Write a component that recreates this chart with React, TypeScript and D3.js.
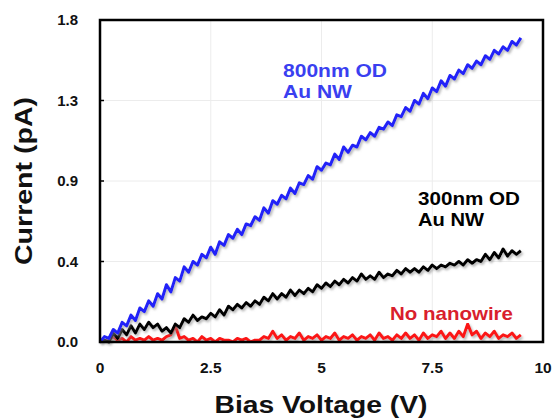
import React, { useEffect, useRef } from "react";
import * as d3 from "d3";

// bias voltage samples (V), step 0.1 from 0 to 9.5
const voltage: number[] = d3.range(0, 96).map((i) => i / 10);

// current readings (pA)
const au800: number[] = [
  0.0, 0.03, 0.02, 0.07, 0.05, 0.11, 0.09, 0.15, 0.12, 0.19,
  0.17, 0.23, 0.2, 0.27, 0.24, 0.32, 0.28, 0.36, 0.34, 0.42,
  0.39, 0.45, 0.43, 0.49, 0.47, 0.53, 0.49, 0.56, 0.54, 0.6,
  0.58, 0.63, 0.6, 0.66, 0.65, 0.7, 0.68, 0.75, 0.72, 0.79,
  0.77, 0.82, 0.8, 0.86, 0.83, 0.89, 0.88, 0.93, 0.91, 0.98,
  0.96, 1.0, 0.99, 1.05, 1.02, 1.09, 1.06, 1.1, 1.09, 1.15,
  1.13, 1.17, 1.15, 1.2, 1.19, 1.23, 1.21, 1.27, 1.26, 1.31,
  1.29, 1.35, 1.33, 1.39, 1.36, 1.42, 1.4, 1.46, 1.43, 1.49,
  1.47, 1.52, 1.5, 1.55, 1.53, 1.57, 1.55, 1.6, 1.58, 1.63,
  1.61, 1.65, 1.63, 1.68, 1.66, 1.7
];

const au300: number[] = [
  0.0, 0.01, 0.0, 0.05, 0.02, 0.07, 0.04, 0.09, 0.05, 0.1,
  0.07, 0.11, 0.08, 0.1, 0.06, 0.08, 0.05, 0.1, 0.08, 0.13,
  0.11, 0.15, 0.12, 0.14, 0.13, 0.16, 0.14, 0.18, 0.15, 0.2,
  0.18, 0.21, 0.19, 0.22, 0.2, 0.23, 0.21, 0.25, 0.23, 0.27,
  0.24, 0.27, 0.25, 0.29, 0.26, 0.29, 0.27, 0.3, 0.28, 0.32,
  0.3, 0.33, 0.31, 0.34, 0.32, 0.35, 0.33, 0.36, 0.34, 0.38,
  0.35, 0.37, 0.35, 0.39, 0.36, 0.38, 0.37, 0.4, 0.38, 0.41,
  0.39, 0.41, 0.39, 0.42, 0.4, 0.43, 0.41, 0.43, 0.42, 0.44,
  0.43, 0.45, 0.43, 0.46, 0.44, 0.46, 0.45, 0.49, 0.46, 0.5,
  0.47, 0.52, 0.48, 0.51, 0.49, 0.51
];

const noWire: number[] = [
  0.0, 0.0, 0.01, 0.03, 0.01, 0.02, 0.0, 0.03, 0.01, 0.02,
  0.01, 0.03, 0.01, 0.02, 0.01, 0.03, 0.04, 0.09, 0.02, 0.03,
  0.01, 0.02, 0.0, 0.03, 0.01, 0.02, 0.0, 0.02, 0.01, 0.01,
  0.0, 0.02, 0.01, 0.02, 0.0, 0.01, 0.01, 0.03, 0.02, 0.06,
  0.02, 0.04, 0.01, 0.03, 0.02, 0.05, 0.01, 0.03, 0.02, 0.04,
  0.01, 0.03, 0.02, 0.05, 0.01, 0.03, 0.02, 0.04, 0.01, 0.03,
  0.02, 0.04, 0.01, 0.05, 0.02, 0.03, 0.01, 0.04, 0.02, 0.05,
  0.02, 0.04, 0.01, 0.05, 0.02, 0.04, 0.03, 0.06, 0.02, 0.05,
  0.02, 0.06, 0.03, 0.1, 0.04, 0.06, 0.02, 0.05, 0.03, 0.06,
  0.02, 0.04, 0.03, 0.05, 0.02, 0.04
];

const xTicks: number[] = [0, 2.5, 5, 7.5, 10];
const yTicks: number[] = [0, 0.45, 0.9, 1.35, 1.8];
const yTickLabels: string[] = ["0.0", "0.4", "0.9", "1.3", "1.8"];

const font = "Helvetica, Arial, 'Liberation Sans', sans-serif";

const App = () => {
  const svgRef = useRef<SVGSVGElement>(null);

  useEffect(() => {
    const svg = d3.select(svgRef.current);
    svg.selectAll("*").remove();

    const width = 554;
    const height = 420;
    const left = 100, right = 543, top = 20, bottom = 342;

    const x = d3.scaleLinear().domain([0, 10]).range([left, right]);
    const y = d3.scaleLinear().domain([0, 1.8]).range([bottom, top]);

    svg.append("rect").attr("width", width).attr("height", height).attr("fill", "#fff");

    // soft shadow under the traces
    const defs = svg.append("defs");
    const f = defs.append("filter").attr("id", "shadow").attr("x", "-5%").attr("y", "-5%").attr("width", "110%").attr("height", "110%");
    f.append("feDropShadow")
      .attr("dx", 1.5)
      .attr("dy", 2)
      .attr("stdDeviation", 1.2)
      .attr("flood-color", "#888")
      .attr("flood-opacity", 0.6);

    // grid
    const grid = svg.append("g");
    grid.selectAll(".gx")
      .data(xTicks.slice(1, -1))
      .enter()
      .append("line")
      .attr("x1", (d) => x(d))
      .attr("x2", (d) => x(d))
      .attr("y1", top)
      .attr("y2", bottom)
      .attr("stroke", "#ececec")
      .attr("stroke-width", 1);
    grid.selectAll(".gy")
      .data(yTicks.slice(1, -1))
      .enter()
      .append("line")
      .attr("x1", left)
      .attr("x2", right)
      .attr("y1", (d) => y(d))
      .attr("y2", (d) => y(d))
      .attr("stroke", "#ececec")
      .attr("stroke-width", 1);

    // traces
    const line = d3.line<number>()
      .x((_, i) => x(voltage[i]))
      .y((d) => y(d));

    const series = [
      { data: noWire, color: "#fb1818" },
      { data: au300, color: "#000000" },
      { data: au800, color: "#2121f8" }
    ];
    series.forEach((s) => {
      svg.append("path")
        .datum(s.data)
        .attr("d", line)
        .attr("fill", "none")
        .attr("stroke", s.color)
        .attr("stroke-width", 3)
        .attr("stroke-linejoin", "round")
        .attr("filter", "url(#shadow)");
    });

    // frame
    svg.append("rect")
      .attr("x", left)
      .attr("y", top)
      .attr("width", right - left)
      .attr("height", bottom - top)
      .attr("fill", "none")
      .attr("stroke", "#000")
      .attr("stroke-width", 2.5);

    // inward ticks
    svg.selectAll(".ty")
      .data(yTicks)
      .enter()
      .append("line")
      .attr("x1", left)
      .attr("x2", left + 4)
      .attr("y1", (d) => y(d))
      .attr("y2", (d) => y(d))
      .attr("stroke", "#000")
      .attr("stroke-width", 1.5);

    // tick labels
    svg.selectAll(".ly")
      .data(yTicks)
      .enter()
      .append("text")
      .attr("x", left - 22)
      .attr("y", (d) => y(d))
      .attr("dy", "0.36em")
      .attr("text-anchor", "end")
      .style("font-family", font)
      .style("font-weight", "bold")
      .style("font-size", "15px")
      .attr("fill", "#111")
      .text((_, i) => yTickLabels[i]);

    svg.selectAll(".lx")
      .data(xTicks)
      .enter()
      .append("text")
      .attr("x", (d) => x(d))
      .attr("y", bottom + 31)
      .attr("text-anchor", "middle")
      .style("font-family", font)
      .style("font-weight", "bold")
      .style("font-size", "15.5px")
      .attr("fill", "#111")
      .text((d) => String(d));

    // axis titles
    svg.append("text")
      .attr("transform", `translate(32, 181) rotate(-90)`)
      .attr("text-anchor", "middle")
      .attr("textLength", 168)
      .attr("lengthAdjust", "spacingAndGlyphs")
      .style("font-family", font)
      .style("font-weight", "bold")
      .style("font-size", "24px")
      .attr("fill", "#111")
      .text("Current (pA)");

    svg.append("text")
      .attr("x", 321)
      .attr("y", 413)
      .attr("text-anchor", "middle")
      .attr("textLength", 213)
      .attr("lengthAdjust", "spacingAndGlyphs")
      .style("font-family", font)
      .style("font-weight", "bold")
      .style("font-size", "23px")
      .attr("fill", "#111")
      .text("Bias Voltage (V)");

    // in-plot labels
    const labels = [
      { lines: ["800nm OD", "Au NW"], widths: [104, 69], x: 283, y: 77, color: "#3a3ff0" },
      { lines: ["300nm OD", "Au NW"], widths: [102, 66], x: 418, y: 205, color: "#000" },
      { lines: ["No nanowire"], widths: [123], x: 390, y: 320, color: "#d91f2d" }
    ];
    labels.forEach((l) => {
      l.lines.forEach((t, i) => {
        svg.append("text")
          .attr("x", l.x)
          .attr("y", l.y + i * 21)
          .attr("textLength", l.widths[i])
          .attr("lengthAdjust", "spacingAndGlyphs")
          .style("font-family", font)
          .style("font-weight", "bold")
          .style("font-size", "19px")
          .attr("fill", l.color)
          .text(t);
      });
    });
  }, []);

  return (
    <svg
      ref={svgRef}
      width={554}
      height={420}
      style={{ position: "absolute", left: 0, top: 0 }}
    />
  );
};

export default App;
